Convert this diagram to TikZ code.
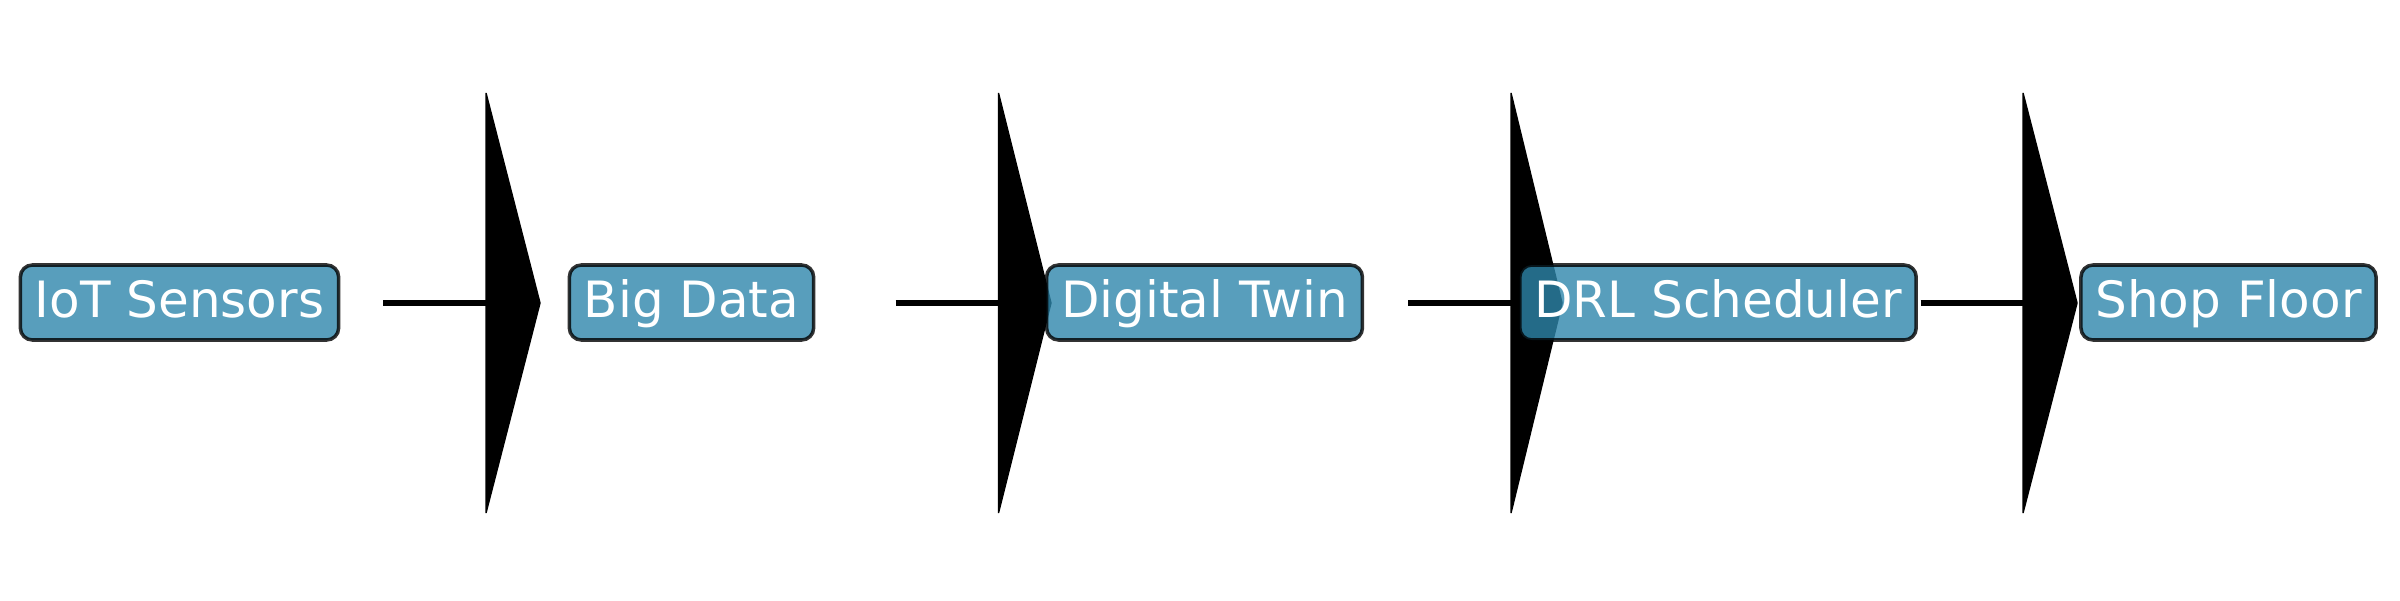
\documentclass[tikz,border=0pt]{standalone}
\usepackage{fontspec}
\setmainfont{DejaVu Sans}
\usetikzlibrary{backgrounds}
\definecolor{boxfill}{HTML}{2E86AB}
\tikzset{
  stagebox/.style={draw=black, fill=boxfill, fill opacity=0.8, draw opacity=0.8, text opacity=1,
    line width=1pt, rounded corners=0.12cm, text=white,
    inner xsep=0.145cm, inner ysep=0.1cm, text height=0.42cm, text depth=0.13cm,
    font=\fontsize{14.23}{17}\selectfont},
  flowline/.style={line width=0.06cm, draw=black},
  flowhead/.style={fill=black, draw=black, line width=0.4pt, line join=bevel}
}
\begin{document}
\begin{tikzpicture}
\useasboundingbox (0,0) rectangle (24,6);
\node[stagebox] (iot)  at (1.795,2.975) {IoT Sensors};
\node[stagebox] (big)  at (6.915,2.975) {Big Data};
\node[stagebox] (twin) at (12.045,2.975) {Digital Twin};
\node[stagebox] (drl)  at (17.18,2.975) {DRL Scheduler};
\node[stagebox] (shop) at (22.285,2.975) {Shop Floor};
\coordinate (s1) at (3.83,2.97);   \coordinate (b1) at (4.86,2.97);   \coordinate (t1) at (5.40,2.97);
\coordinate (s2) at (8.955,2.97);  \coordinate (b2) at (9.985,2.97);  \coordinate (t2) at (10.51,2.97);
\coordinate (s3) at (14.08,2.97);  \coordinate (b3) at (15.11,2.97);  \coordinate (t3) at (15.62,2.97);
\coordinate (s4) at (19.205,2.97); \coordinate (b4) at (20.23,2.97);  \coordinate (t4) at (20.77,2.97);
\begin{pgfonlayer}{background}
\foreach \i in {1,2,3,4}{
  \draw[flowline] (s\i) -- (b\i);
  \draw[flowhead] ([yshift=2.1cm]b\i) -- (t\i) -- ([yshift=-2.1cm]b\i) -- cycle;
}
\end{pgfonlayer}
\end{tikzpicture}
\end{document}
